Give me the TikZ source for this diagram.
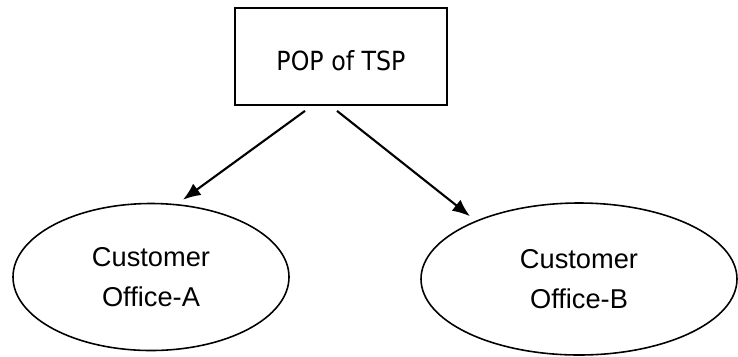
\documentclass[tikz,border=0pt]{standalone}
\usepackage{fontspec}
\setmainfont{Liberation Sans}
\newfontfamily\popfont[FakeStretch=0.9]{DejaVu Sans}
\usetikzlibrary{shapes.geometric,arrows.meta}

\begin{document}
\begin{tikzpicture}[popbox/.style={draw,line width=1pt,minimum width=4.24cm,minimum height=1.94cm,inner sep=0pt,text height=0.56cm,font=\popfont\fontsize{15}{18}\selectfont},
  office/.style={draw,ellipse,line width=0.9pt,inner sep=0pt,align=center,font=\fontsize{15.5}{22.8}\selectfont},
  link/.style={line width=1.2pt,-{Latex[length=10pt,width=8pt]}}]
\useasboundingbox (0,0) rectangle (14.76,-7.12);
\coordinate (P) at (6.82,-1.13); \coordinate (A) at (3.02,-5.54); \coordinate (B) at (11.58,-5.58);
\node[popbox] (pop) at (P) {POP of TSP};
\node[office,minimum width=5.52cm,minimum height=2.94cm] (offA) at (A) {Customer\\Office-A};
\node[office,minimum width=6.32cm,minimum height=3.04cm] (offB) at (B) {Customer\\Office-B};
\draw[link] ([xshift=-0.72cm,yshift=-0.1cm]pop.south) -- ([xshift=0.64cm,yshift=0.06cm]offA.north);
\draw[link] ([xshift=-0.08cm,yshift=-0.1cm]pop.south) -- ([xshift=-2.18cm,yshift=-0.28cm]offB.north);
\end{tikzpicture}
\end{document}
